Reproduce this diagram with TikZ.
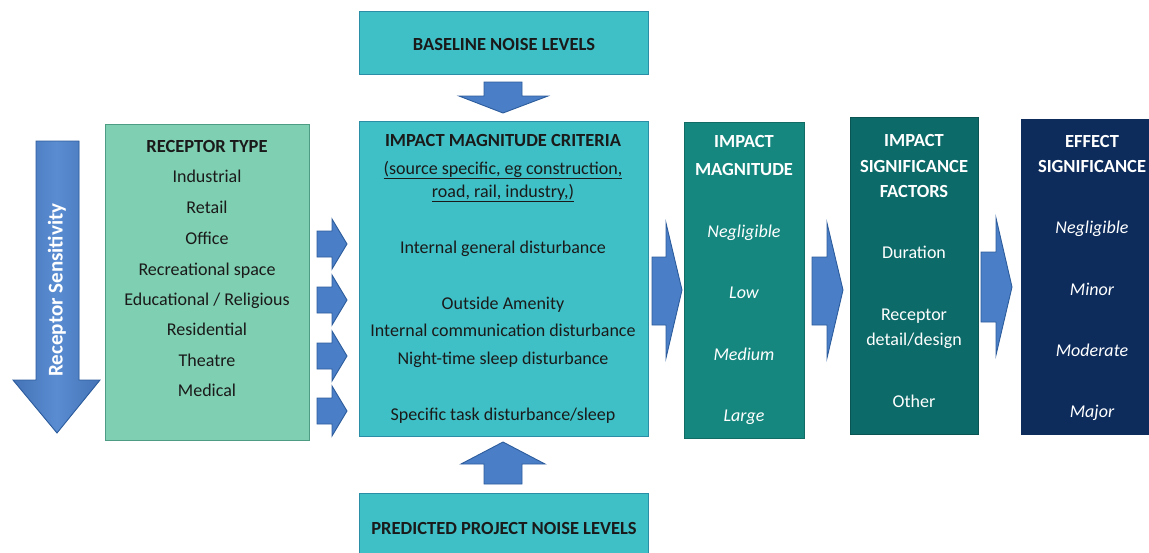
\documentclass[tikz,border=0pt]{standalone}
\usepackage{fontspec}
\setmainfont{Carlito}
\definecolor{recfill}{HTML}{7FCFB2}
\definecolor{recline}{HTML}{4E9C84}
\definecolor{cyanfill}{HTML}{3FC0C6}
\definecolor{cyanline}{HTML}{2A8FA6}
\definecolor{magfill}{HTML}{16877F}
\definecolor{facfill}{HTML}{0C6A68}
\definecolor{efffill}{HTML}{0D2C5C}
\definecolor{arrfill}{HTML}{4A7EC6}
\definecolor{arrlight}{HTML}{5A8CD2}
\definecolor{arrline}{HTML}{2C5C9C}
\definecolor{txtdark}{HTML}{1A1A1A}
\begin{document}
\begin{tikzpicture}[x=1pt,y=-1pt,
  box/.style={draw, line width=0.8pt, inner sep=0pt, anchor=north west},
  txt/.style={font=\fontsize{18}{20}\selectfont, text=txtdark, inner sep=0pt, anchor=base},
  hdr/.style={txt, font=\fontsize{18.5}{20}\selectfont\bfseries},
  wtxt/.style={txt, text=white},
  whdr/.style={hdr, text=white},
  witx/.style={wtxt, font=\fontsize{18}{20}\selectfont\itshape},
  blockarrow/.style={fill=arrfill, draw=arrline, line width=0.9pt, line join=miter}]
\useasboundingbox (0,0) rectangle (1149,552);
% boxes
\node[box, fill=cyanfill, draw=cyanline, minimum width=289pt, minimum height=63pt] (base) at (359,11) {};
\node[box, fill=recfill, draw=recline, minimum width=204pt, minimum height=316pt] (rec) at (105,124) {};
\node[box, fill=cyanfill, draw=cyanline, minimum width=289pt, minimum height=315pt] (crit) at (359,121) {};
\node[box, fill=cyanfill, draw=cyanline, minimum width=289pt, minimum height=65pt] (pred) at (359,493) {};
\node[box, fill=magfill, draw=magfill!80!black, minimum width=120pt, minimum height=316pt] (mag) at (684,122) {};
\node[box, fill=facfill, draw=facfill!80!black, minimum width=128pt, minimum height=317pt] (fac) at (850,117) {};
\node[box, fill=efffill, draw=efffill, minimum width=135pt, minimum height=315pt] (eff) at (1021,119) {};
% left sensitivity arrow
\path[blockarrow, left color=arrfill!92!black, right color=arrfill!92!black, middle color=arrlight]
  (36,141) -- (79,141) -- (79,380) -- (100,380) -- (57,433) -- (13,380) -- (36,380) -- cycle;
\node[whdr, anchor=center, rotate=90, font=\fontsize{21}{22}\selectfont\bfseries] (sens) at (57,290) {Receptor Sensitivity};
% vertical arrows
\coordinate (dtip) at (503,113);
\coordinate (utip) at (503,442);
\path[blockarrow] (484,82) -- (522,82) -- (522,96) -- (548,96) -- (dtip) -- (459,96) -- (484,96) -- cycle;
\path[blockarrow] (484,484) -- (522,484) -- (522,464) -- (545,464) -- (utip) -- (461,464) -- (484,464) -- cycle;
% small arrows rec -> crit
\foreach \yy in {244,300,356,411}{
  \path[blockarrow] (317,\yy-13) -- (332,\yy-13) -- (332,\yy-25) -- (347,\yy) -- (332,\yy+25) -- (332,\yy+13) -- (317,\yy+13) -- cycle;
}
% big arrows between columns
\path[blockarrow] (652,257) -- (666,257) -- (666,223) -- (682,290) -- (666,358) -- (666,325) -- (652,325) -- cycle;
\path[blockarrow] (812,257) -- (827,257) -- (827,223) -- (843,290) -- (827,358) -- (827,325) -- (812,325) -- cycle;
\path[blockarrow] (981,252) -- (996,252) -- (996,218) -- (1012,287) -- (996,355) -- (996,322) -- (981,322) -- cycle;
% texts
\node[hdr] (tbase) at (504,50) {BASELINE NOISE LEVELS};
\node[hdr] (tpred) at (504,534) {PREDICTED PROJECT NOISE LEVELS};
\node[hdr] (r0) at (207,152) {RECEPTOR TYPE};
\node[txt] (r1) at (207,182) {Industrial};
\node[txt] (r2) at (207,213) {Retail};
\node[txt] (r3) at (207,244) {Office};
\node[txt] (r4) at (207,275) {Recreational space};
\node[txt] (r5) at (207,305) {Educational / Religious};
\node[txt] (r6) at (207,335) {Residential};
\node[txt] (r7) at (207,366) {Theatre};
\node[txt] (r8) at (207,396) {Medical};
\node[hdr] (c0) at (503,146) {IMPACT MAGNITUDE CRITERIA};
\node[txt] (c1) at (503,174) {\underline{(source specific, eg construction,}};
\node[txt] (c2) at (503,197) {\underline{road, rail, industry,)}};
\node[txt] (c3) at (503,253) {Internal general disturbance};
\node[txt] (c4) at (503,309) {Outside Amenity};
\node[txt] (c5) at (503,336) {Internal communication disturbance};
\node[txt] (c6) at (503,364) {Night-time sleep disturbance};
\node[txt] (c7) at (503,420) {Specific task disturbance/sleep};
\node[whdr] (m0) at (744,147) {IMPACT};
\node[whdr] (m1) at (744,175) {MAGNITUDE};
\node[witx] (m2) at (744,237) {Negligible};
\node[witx] (m3) at (744,298) {Low};
\node[witx] (m4) at (744,360) {Medium};
\node[witx] (m5) at (744,421) {Large};
\node[whdr] (f0) at (914,146) {IMPACT};
\node[whdr] (f1) at (914,172) {SIGNIFICANCE};
\node[whdr] (f2) at (914,197) {FACTORS};
\node[wtxt] (f3) at (914,258) {Duration};
\node[wtxt] (f4) at (914,320) {Receptor};
\node[wtxt] (f5) at (914,345) {detail/design};
\node[wtxt] (f6) at (914,407) {Other};
\node[whdr] (e0) at (1092,147) {EFFECT};
\node[whdr] (e1) at (1092,172) {SIGNIFICANCE};
\node[witx] (e2) at (1092,233) {Negligible};
\node[witx] (e3) at (1092,295) {Minor};
\node[witx] (e4) at (1092,356) {Moderate};
\node[witx] (e5) at (1092,417) {Major};
\end{tikzpicture}
\end{document}
